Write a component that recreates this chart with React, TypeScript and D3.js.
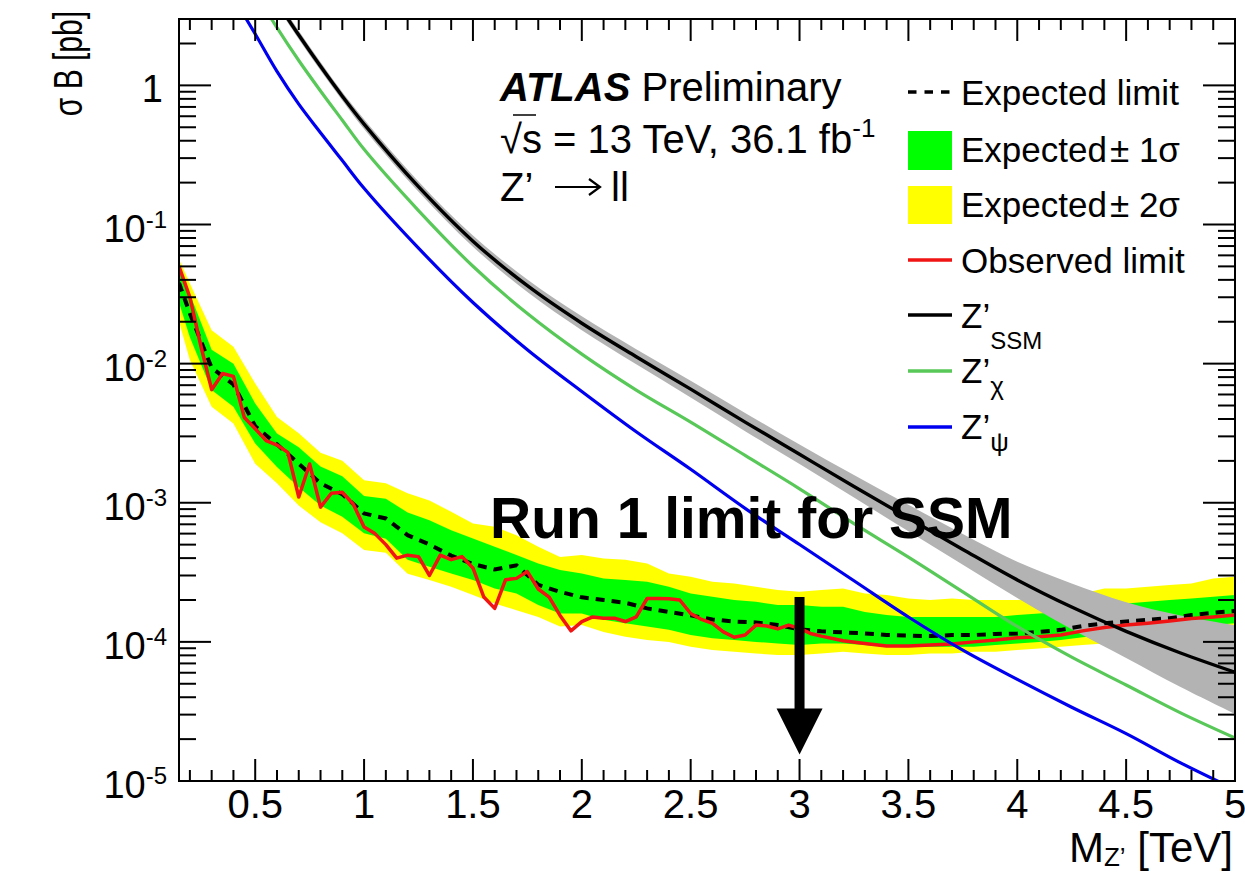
import React from "react";
import * as d3 from "d3";

// ---- Limit scan: common mass grid for expected limit and its bands (TeV) ----
const massGrid = [
  0.15, 0.2, 0.3, 0.4, 0.5, 0.6, 0.7, 0.8, 0.9, 1.0,
  1.1, 1.2, 1.3, 1.4, 1.5, 1.6, 1.7, 1.8, 1.9, 2.0,
  2.1, 2.2, 2.3, 2.4, 2.5, 2.6, 2.7, 2.8, 2.9, 3.0,
  3.1, 3.2, 3.3, 3.4, 3.5, 3.6, 3.7, 3.8, 3.9, 4.0,
  4.1, 4.2, 4.3, 4.4, 4.5, 4.6, 4.7, 4.8, 4.9, 5.0,
];

// Expected 95% CL limit on sigma*B [pb]
const expected = [
  3.8e-2, 2.29e-2, 9.33e-3, 7.08e-3, 3.55e-3, 2.63e-3, 1.91e-3, 1.38e-3, 1.15e-3, 8.38e-4,
  7.71e-4, 5.85e-4, 5.01e-4, 4.17e-4, 3.63e-4, 3.31e-4, 3.55e-4, 2.57e-4, 2.29e-4, 2.09e-4,
  2.0e-4, 1.91e-4, 1.74e-4, 1.64e-4, 1.55e-4, 1.45e-4, 1.4e-4, 1.38e-4, 1.32e-4, 1.23e-4,
  1.19e-4, 1.17e-4, 1.15e-4, 1.12e-4, 1.11e-4, 1.1e-4, 1.12e-4, 1.12e-4, 1.14e-4, 1.15e-4,
  1.18e-4, 1.22e-4, 1.3e-4, 1.36e-4, 1.4e-4, 1.44e-4, 1.48e-4, 1.56e-4, 1.62e-4, 1.67e-4,
];

const expectedPlus2 = [
  5.62e-2, 3.76e-2, 1.74e-2, 1.32e-2, 7.19e-3, 4.14e-3, 3.16e-3, 2.29e-3, 2.0e-3, 1.45e-3,
  1.38e-3, 1.17e-3, 1.04e-3, 8.61e-4, 7.1e-4, 6.71e-4, 5.85e-4, 4.82e-4, 4.08e-4, 4.21e-4,
  3.98e-4, 3.89e-4, 3.66e-4, 3.1e-4, 2.94e-4, 2.7e-4, 2.63e-4, 2.49e-4, 2.36e-4, 2.29e-4,
  2.36e-4, 2.42e-4, 2.23e-4, 2.17e-4, 2.05e-4, 2.0e-4, 2.05e-4, 2.0e-4, 2.0e-4, 2.0e-4,
  2.05e-4, 2.11e-4, 2.23e-4, 2.42e-4, 2.42e-4, 2.49e-4, 2.56e-4, 2.63e-4, 2.86e-4, 2.94e-4,
];

const expectedPlus1 = [
  4.9e-2, 3.16e-2, 1.26e-2, 1.0e-2, 5.16e-3, 3.14e-3, 2.51e-3, 1.82e-3, 1.55e-3, 1.12e-3,
  1.07e-3, 8.51e-4, 7.5e-4, 6.35e-4, 5.53e-4, 4.82e-4, 4.21e-4, 3.66e-4, 3.28e-4, 3.1e-4,
  2.86e-4, 2.78e-4, 2.7e-4, 2.49e-4, 2.23e-4, 2.11e-4, 2.0e-4, 1.94e-4, 1.84e-4, 1.84e-4,
  1.79e-4, 1.79e-4, 1.64e-4, 1.56e-4, 1.51e-4, 1.51e-4, 1.51e-4, 1.51e-4, 1.51e-4, 1.56e-4,
  1.6e-4, 1.64e-4, 1.74e-4, 1.84e-4, 1.89e-4, 1.94e-4, 2.0e-4, 2.05e-4, 2.11e-4, 2.17e-4,
];

const expectedMinus1 = [
  2.75e-2, 1.55e-2, 6.46e-3, 4.9e-3, 2.67e-3, 1.81e-3, 1.29e-3, 9.55e-4, 7.94e-4, 6.03e-4,
  5.5e-4, 3.89e-4, 3.47e-4, 3.1e-4, 2.78e-4, 2.42e-4, 2.23e-4, 1.84e-4, 1.6e-4, 1.6e-4,
  1.44e-4, 1.36e-4, 1.29e-4, 1.22e-4, 1.12e-4, 1.06e-4, 1.03e-4, 1.0e-4, 9.75e-5, 9.48e-5,
  9.75e-5, 9.75e-5, 9.48e-5, 9.23e-5, 9.23e-5, 9.23e-5, 9.23e-5, 9.23e-5, 9.48e-5, 9.75e-5,
  1.0e-4, 1.03e-4, 1.08e-4, 1.12e-4, 1.15e-4, 1.18e-4, 1.23e-4, 1.29e-4, 1.32e-4, 1.36e-4,
];

const expectedMinus2 = [
  2.0e-2, 1.06e-2, 4.9e-3, 3.72e-3, 1.91e-3, 1.38e-3, 9.55e-4, 7.24e-4, 6.03e-4, 4.57e-4,
  4.37e-4, 3.09e-4, 2.78e-4, 2.49e-4, 2.17e-4, 1.89e-4, 1.69e-4, 1.51e-4, 1.29e-4, 1.32e-4,
  1.18e-4, 1.09e-4, 1.03e-4, 1.0e-4, 9.23e-5, 8.73e-5, 8.49e-5, 8.26e-5, 8.04e-5, 8.04e-5,
  8.26e-5, 8.49e-5, 8.26e-5, 8.04e-5, 8.04e-5, 8.26e-5, 8.26e-5, 8.49e-5, 8.49e-5, 8.73e-5,
  8.97e-5, 9.23e-5, 9.48e-5, 9.75e-5, 1.02e-4, 1.06e-4, 1.09e-4, 1.12e-4, 1.15e-4, 1.18e-4,
];

// ---- Observed limit (finer mass steps) ----
const observedMass = [
  0.15, 0.2, 0.25, 0.3, 0.35, 0.4, 0.45, 0.5, 0.55, 0.6,
  0.65, 0.7, 0.75, 0.8, 0.85, 0.9, 0.95, 1.0, 1.05, 1.1,
  1.15, 1.2, 1.25, 1.3, 1.35, 1.4, 1.45, 1.5, 1.55, 1.6,
  1.65, 1.7, 1.75, 1.8, 1.85, 1.9, 1.95, 2.0, 2.05, 2.1,
  2.15, 2.2, 2.25, 2.3, 2.35, 2.4, 2.45, 2.5, 2.55, 2.6,
  2.65, 2.7, 2.75, 2.8, 2.85, 2.9, 2.95, 3.0, 3.05, 3.1,
  3.2, 3.3, 3.4, 3.5, 3.6, 3.7, 3.8, 3.9, 4.0, 4.1,
  4.2, 4.3, 4.4, 4.5, 4.6, 4.7, 4.8, 4.9, 5.0,
];

const observed = [
  5.0e-2, 3.0e-2, 1.35e-2, 6.5e-3, 8.5e-3, 8.1e-3, 4.1e-3, 3.4e-3, 2.8e-3, 2.6e-3,
  2.3e-3, 1.1e-3, 1.9e-3, 9.3e-4, 1.17e-3, 1.19e-3, 9.8e-4, 6.7e-4, 6.0e-4, 5.0e-4,
  4.0e-4, 4.2e-4, 4.1e-4, 3.0e-4, 4.2e-4, 3.9e-4, 4.1e-4, 3.4e-4, 2.1e-4, 1.74e-4,
  2.8e-4, 2.86e-4, 3.2e-4, 2.4e-4, 2.1e-4, 1.55e-4, 1.2e-4, 1.4e-4, 1.51e-4, 1.48e-4,
  1.48e-4, 1.4e-4, 1.51e-4, 2.05e-4, 2.05e-4, 2.04e-4, 2.0e-4, 1.6e-4, 1.45e-4, 1.36e-4,
  1.18e-4, 1.08e-4, 1.12e-4, 1.32e-4, 1.3e-4, 1.24e-4, 1.32e-4, 1.25e-4, 1.15e-4, 1.1e-4,
  1.02e-4, 9.75e-5, 9.33e-5, 9.33e-5, 9.48e-5, 9.66e-5, 1.0e-4, 1.03e-4, 1.07e-4, 1.09e-4,
  1.12e-4, 1.2e-4, 1.27e-4, 1.32e-4, 1.36e-4, 1.41e-4, 1.47e-4, 1.51e-4, 1.56e-4,
];

// ---- Theory predictions sigma*B [pb] ----
const ssmMass = [0.6, 0.7, 0.8, 0.9, 1.0, 1.25, 1.5, 1.75, 2.0, 2.25, 2.5, 2.75, 3.0, 3.25, 3.5, 3.75, 4.0, 4.25, 4.5, 4.75, 5.0];
const ssmXsec = [3.95, 2.3, 1.37, 0.836, 0.527, 0.187, 7.59e-2, 3.63e-2, 1.95e-2, 1.12e-2, 6.56e-3, 3.8e-3, 2.23e-3, 1.31e-3, 7.76e-4, 4.62e-4, 2.79e-4, 1.78e-4, 1.19e-4, 8.32e-5, 6.05e-5];
const ssmXsecUp = [4.24, 2.47, 1.47, 0.895, 0.571, 0.204, 8.32e-2, 4.03e-2, 2.19e-2, 1.27e-2, 7.53e-3, 4.42e-3, 2.62e-3, 1.58e-3, 9.66e-4, 5.96e-4, 3.76e-4, 2.63e-4, 1.93e-4, 1.55e-4, 1.32e-4];
const ssmXsecDown = [3.69, 2.15, 1.28, 0.78, 0.486, 0.172, 6.92e-2, 3.27e-2, 1.74e-2, 9.89e-3, 5.71e-3, 3.27e-3, 1.9e-3, 1.09e-3, 6.24e-4, 3.59e-4, 2.07e-4, 1.23e-4, 7.67e-5, 4.73e-5, 3.03e-5];

const chiMass = [0.5, 0.6, 0.7, 0.8, 0.9, 1.0, 1.25, 1.5, 1.75, 2.0, 2.25, 2.5, 2.75, 3.0, 3.25, 3.5, 3.75, 4.0, 4.25, 4.5, 4.75, 5.0];
const chiXsec = [4.68, 2.6, 1.51, 0.912, 0.562, 0.347, 0.126, 5.01e-2, 2.29e-2, 1.17e-2, 6.46e-3, 3.8e-3, 2.19e-3, 1.26e-3, 7.08e-4, 4.07e-4, 2.29e-4, 1.29e-4, 7.76e-5, 4.9e-5, 3.09e-5, 2.04e-5];

const psiMass = [0.4, 0.5, 0.6, 0.7, 0.8, 0.9, 1.0, 1.25, 1.5, 1.75, 2.0, 2.25, 2.5, 2.75, 3.0, 3.25, 3.5, 3.75, 4.0, 4.25, 4.5, 4.75, 5.0];
const psiXsec = [4.27, 2.34, 1.26, 0.733, 0.457, 0.288, 0.182, 6.76e-2, 2.75e-2, 1.26e-2, 6.31e-3, 3.24e-3, 1.74e-3, 9.12e-4, 5.01e-4, 2.75e-4, 1.51e-4, 8.71e-5, 5.37e-5, 3.39e-5, 2.19e-5, 1.35e-5, 8.71e-6];

// ---- Axis labels ----
const xMajorTicks = [0.5, 1, 1.5, 2, 2.5, 3, 3.5, 4, 4.5, 5];
const xTickLabels = ["0.5", "1", "1.5", "2", "2.5", "3", "3.5", "4", "4.5", "5"];
const yDecades = [1e-5, 1e-4, 1e-3, 1e-2, 1e-1, 1];
const yExponents = ["-5", "-4", "-3", "-2", "-1", ""];

// Run-1 SSM limit marker
const run1Mass = 3.0;
const run1ArrowTop = 2.1e-4;
const run1ArrowTip = 1.55e-5;

const FONT = "'Liberation Sans', Arial, Helvetica, sans-serif";
const C = {
  yellow: "#ffff00",
  green: "#00ff00",
  grey: "#b3b3b3",
  red: "#f01414",
  black: "#000000",
  chi: "#58c858",
  psi: "#0000f0",
};

type P = [number, number];
const zip = (ms: number[], vs: number[]): P[] => ms.map((m, i) => [m, vs[i]]);

export default function App() {
  const W = 1245;
  const H = 873;
  const left = 179;
  const right = 1235;
  const top = 19;
  const bottom = 781;

  const x = d3.scaleLinear().domain([0.15, 5]).range([left, right]);
  const y = d3.scaleLog().domain([1e-5, 3]).range([bottom, top]);

  const band = (lo: number[], hi: number[]) =>
    d3
      .area<number>()
      .x((i) => x(massGrid[i]))
      .y0((i) => y(lo[i]))
      .y1((i) => y(hi[i]))(massGrid.map((_, i) => i)) || "";

  const straight = d3.line<P>().x((d) => x(d[0])).y((d) => y(d[1]));
  const smooth = d3
    .line<P>()
    .x((d) => x(d[0]))
    .y((d) => y(d[1]))
    .curve(d3.curveCatmullRom.alpha(0.5));
  const ssmBand =
    d3
      .area<number>()
      .x((i) => x(ssmMass[i]))
      .y0((i) => y(ssmXsecDown[i]))
      .y1((i) => y(ssmXsecUp[i]))
      .curve(d3.curveCatmullRom.alpha(0.5))(ssmMass.map((_, i) => i)) || "";

  // tick positions
  const xMinor: number[] = [];
  for (let i = 2; i <= 50; i++) if (i % 5 !== 0) xMinor.push(i / 10);
  const yMinor = y.ticks().filter((v) => {
    const l = Math.log10(v);
    return Math.abs(l - Math.round(l)) > 1e-6 && v < 2.99;
  });

  const majX = 22;
  const minX = 11;
  const majY = 32;
  const minY = 17;

  const legendX = 908;
  const legendW = 44;
  const legendTextX = 961;
  const rows = [92, 150, 205, 260, 315, 371, 427];
  const legFs = 35;

  const axisStroke = { stroke: "#000", strokeWidth: 2 };

  return (
    <svg
      width={W}
      height={H}
      viewBox={`0 0 ${W} ${H}`}
      style={{ position: "absolute", left: 0, top: 0, background: "#fff" }}
      fontFamily={FONT}
    >
      <defs>
        <clipPath id="plot-area">
          <rect x={left} y={top} width={right - left} height={bottom - top} />
        </clipPath>
      </defs>
      <rect x={0} y={0} width={W} height={H} fill="#fff" />

      <g clipPath="url(#plot-area)">
        <path d={band(expectedMinus2, expectedPlus2)} fill={C.yellow} />
        <path d={band(expectedMinus1, expectedPlus1)} fill={C.green} />
        <path d={ssmBand} fill={C.grey} />
        <path
          d={straight(zip(massGrid, expected)) || ""}
          fill="none"
          stroke={C.black}
          strokeWidth={4}
          strokeDasharray="9 7"
        />
        <path d={straight(zip(observedMass, observed)) || ""} fill="none" stroke={C.red} strokeWidth={3.5} strokeLinejoin="round" />
        <path d={smooth(zip(psiMass, psiXsec)) || ""} fill="none" stroke={C.psi} strokeWidth={3.2} />
        <path d={smooth(zip(chiMass, chiXsec)) || ""} fill="none" stroke={C.chi} strokeWidth={3.2} />
        <path d={smooth(zip(ssmMass, ssmXsec)) || ""} fill="none" stroke={C.black} strokeWidth={3.4} />
      </g>

      {/* frame */}
      <rect x={left} y={top} width={right - left} height={bottom - top} fill="none" {...axisStroke} />

      {/* x ticks (bottom and top) */}
      {xMajorTicks.map((v) => (
        <g key={`xM${v}`}>
          <line x1={x(v)} x2={x(v)} y1={bottom} y2={bottom - majX} {...axisStroke} />
          <line x1={x(v)} x2={x(v)} y1={top} y2={top + majX} {...axisStroke} />
        </g>
      ))}
      {xMinor.map((v) => (
        <g key={`xm${v}`}>
          <line x1={x(v)} x2={x(v)} y1={bottom} y2={bottom - minX} {...axisStroke} />
          <line x1={x(v)} x2={x(v)} y1={top} y2={top + minX} {...axisStroke} />
        </g>
      ))}
      {/* y ticks (left and right) */}
      {yDecades.map((v) => (
        <g key={`yM${v}`}>
          <line x1={left} x2={left + majY} y1={y(v)} y2={y(v)} {...axisStroke} />
          <line x1={right} x2={right - majY} y1={y(v)} y2={y(v)} {...axisStroke} />
        </g>
      ))}
      {yMinor.map((v) => (
        <g key={`ym${v}`}>
          <line x1={left} x2={left + minY} y1={y(v)} y2={y(v)} {...axisStroke} />
          <line x1={right} x2={right - minY} y1={y(v)} y2={y(v)} {...axisStroke} />
        </g>
      ))}

      {/* x tick labels */}
      {xMajorTicks.map((v, i) => (
        <text key={`xl${v}`} x={x(v)} y={818} fontSize={40} textAnchor="middle">
          {xTickLabels[i]}
        </text>
      ))}
      {/* y tick labels */}
      {yDecades.map((v, i) =>
        yExponents[i] === "" ? (
          <text key={`yl${v}`} x={163} y={y(v) + 17} fontSize={38} textAnchor="end">
            1
          </text>
        ) : (
          <text key={`yl${v}`} x={167} y={y(v) + 17} fontSize={38} textAnchor="end">
            10
            <tspan fontSize={24} dy={-14}>
              {yExponents[i]}
            </tspan>
          </text>
        )
      )}

      {/* axis titles */}
      <g transform="translate(82,11) rotate(-90) scale(0.75,1)">
        <text x={0} y={0} fontSize={40} textAnchor="end">
          σ B [pb]
        </text>
      </g>
      <text x={1233} y={862} fontSize={42} textAnchor="end">
        M
        <tspan fontSize={26} dy={4}>
          Z’
        </tspan>
        <tspan dy={-4}> [TeV]</tspan>
      </text>

      {/* experiment label */}
      <text x={500} y={101} fontSize={40}>
        <tspan fontWeight="bold" fontStyle="italic">
          ATLAS
        </tspan>
        <tspan> Preliminary</tspan>
      </text>
      <text x={500} y={153} fontSize={40}>
        √<tspan>s = 13 TeV, 36.1 fb</tspan>
        <tspan fontSize={26} dy={-16}>
          -1
        </tspan>
      </text>
      <line x1={513} x2={536} y1={115} y2={115} stroke="#000" strokeWidth={1.5} />
      <text x={500} y={201} fontSize={40}>
        Z’
      </text>
      <path d="M555,187 L599,187 M589,179 L600,187 L589,195" fill="none" stroke="#000" strokeWidth={2.2} />
      <text x={611} y={201} fontSize={40}>
        ll
      </text>

      {/* legend */}
      <line x1={legendX} x2={legendX + legendW} y1={rows[0]} y2={rows[0]} stroke="#000" strokeWidth={3.5} strokeDasharray="8.5 8" />
      <text x={legendTextX} y={rows[0] + 13} fontSize={legFs}>
        Expected limit
      </text>
      <rect x={legendX} y={rows[1] - 19} width={legendW} height={39} fill={C.green} />
      <text x={legendTextX} y={rows[1] + 12} fontSize={legFs}>
        Expected<tspan dx={3}>±</tspan> 1σ
      </text>
      <rect x={legendX} y={rows[2] - 19} width={legendW} height={38} fill={C.yellow} />
      <text x={legendTextX} y={rows[2] + 12} fontSize={legFs}>
        Expected<tspan dx={3}>±</tspan> 2σ
      </text>
      <line x1={legendX} x2={legendX + legendW} y1={rows[3]} y2={rows[3]} stroke={C.red} strokeWidth={3.5} />
      <text x={legendTextX} y={rows[3] + 13} fontSize={legFs}>
        Observed limit
      </text>
      <line x1={legendX} x2={legendX + legendW} y1={rows[4]} y2={rows[4]} stroke={C.black} strokeWidth={3.5} />
      <text x={legendTextX} y={rows[4] + 13} fontSize={legFs}>
        Z’
        <tspan fontSize={24} dy={21}>
          SSM
        </tspan>
      </text>
      <line x1={legendX} x2={legendX + legendW} y1={rows[5]} y2={rows[5]} stroke={C.chi} strokeWidth={3.5} />
      <text x={legendTextX} y={rows[5] + 12} fontSize={legFs}>
        Z’
        <tspan fontSize={26} dy={12}>
          χ
        </tspan>
      </text>
      <line x1={legendX} x2={legendX + legendW} y1={rows[6]} y2={rows[6]} stroke={C.psi} strokeWidth={3.5} />
      <text x={legendTextX} y={rows[6] + 12} fontSize={legFs}>
        Z’
        <tspan fontSize={26} dy={12}>
          ψ
        </tspan>
      </text>

      {/* Run-1 annotation */}
      <text x={490} y={538} fontSize={57} fontWeight="bold">
        Run 1 limit for SSM
      </text>
      <line x1={x(run1Mass)} x2={x(run1Mass)} y1={y(run1ArrowTop)} y2={y(run1ArrowTip) - 44} stroke="#000" strokeWidth={10} />
      <path
        d={`M${x(run1Mass) - 23},${y(run1ArrowTip) - 46} L${x(run1Mass) + 23},${y(run1ArrowTip) - 46} L${x(run1Mass)},${y(run1ArrowTip)} Z`}
        fill="#000"
      />
    </svg>
  );
}
